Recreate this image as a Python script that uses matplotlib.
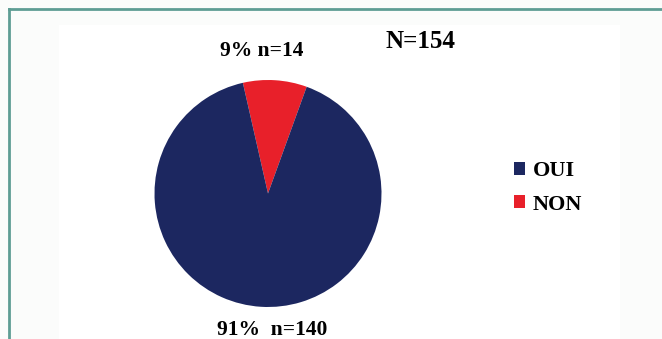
import matplotlib.pyplot as plt
from matplotlib.patches import Rectangle, Patch
from matplotlib.lines import Line2D

# responses
categories = ["OUI", "NON"]
counts = [140, 14]
colors = ["#1c2760", "#e8202a"]
total = sum(counts)

plt.rcParams['font.family'] = ['Liberation Serif', 'DejaVu Serif']

W, H = 662, 339
fig = plt.figure(figsize=(W / 100, H / 100), dpi=100, facecolor="#fbfcfb")

# white plot area and the teal frame
fig.patches.append(Rectangle((59 / W, 0), (620 - 59) / W, (H - 25) / H,
                             transform=fig.transFigure, facecolor="white",
                             edgecolor="none", zorder=-5))
fig.add_artist(Line2D([9 / W, 1], [1 - 9 / H, 1 - 9 / H], color="#5e9d94", lw=2))
fig.add_artist(Line2D([9 / W, 9 / W], [0, 1 - 9 / H], color="#5e9d94", lw=2))

cx, cy, r = 268, 193.5, 113.5
ax = fig.add_axes([(cx - r) / W, (H - cy - r) / H, 2 * r / W, 2 * r / H])
ax.set_facecolor("none")
# NON first so it sits near the top, going clockwise
ax.pie(counts[::-1], colors=colors[::-1], startangle=102.8, counterclock=False,
       radius=1)
ax.set_xlim(-1, 1)
ax.set_ylim(-1, 1)
ax.set_aspect("equal")
ax.axis("off")

pct = [round(c / total * 100) for c in counts]
fig.text(262 / W, 1 - 51 / H, f"{pct[1]}% n={counts[1]}", ha="center", va="center",
         fontsize=15.5, fontweight="bold")
fig.text(272 / W, 1 - 330 / H, f"{pct[0]}%  n={counts[0]}", ha="center", va="center",
         fontsize=15.5, fontweight="bold")
fig.text(421 / W, 1 - 42 / H, f"N={total}", ha="center", va="center",
         fontsize=18, fontweight="bold")

handles = [Patch(facecolor=c, edgecolor="none") for c in colors]
leg = fig.legend(handles, categories, loc="center left",
                 bbox_to_anchor=(494 / W, 1 - 188 / H), frameon=False,
                 handlelength=0.5, handleheight=0.5, handletextpad=0.35,
                 labelspacing=0.6, prop={"size": 16, "weight": "bold"})

fig.savefig("out.png", dpi=100, facecolor=fig.get_facecolor())
